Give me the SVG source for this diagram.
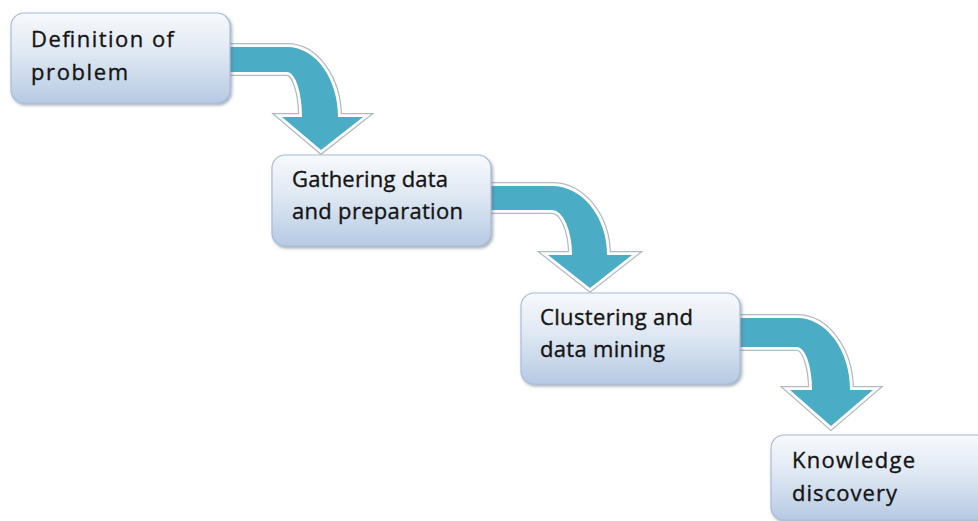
<svg xmlns="http://www.w3.org/2000/svg" xmlns:xlink="http://www.w3.org/1999/xlink" width="978" height="521" viewBox="0 0 978 521">
  <defs>
    <linearGradient id="boxFill" x1="0" y1="0" x2="0" y2="1">
      <stop offset="0" stop-color="#f7f9fc"/>
      <stop offset="0.45" stop-color="#dfe8f3"/>
      <stop offset="1" stop-color="#b6cae3"/>
    </linearGradient>
    <filter id="boxShadow" x="-10%" y="-10%" width="125%" height="130%">
      <feDropShadow dx="1.5" dy="2" stdDeviation="1.6" flood-color="#5d6f88" flood-opacity="0.55"/>
    </filter>
    <!-- bent arrow outlines -->
    <path id="arrow1" d="M225,47 H287 A51,70 0 0 1 338,117 H363 L321,150 L282,117 H302 A15,45 0 0 0 287,72 H225 Z"/>
    <path id="arrow2" d="M486,186 H552 A55,69 0 0 1 607,255 H632 L590,288 L548,255 H572 A20,45 0 0 0 552,210 H486 Z"/>
    <path id="arrow3" d="M735,318 H797 A53,72 0 0 1 850,390 H873 L831,426 L790,390 H812 A15,43 0 0 0 797,347 H735 Z"/>
  </defs>
  <style>
    .halo { fill: none; stroke: #b0bac5; stroke-width: 8; stroke-linejoin: miter; }
    .rim { fill: none; stroke: #ffffff; stroke-width: 5.5; stroke-linejoin: miter; }
    .shaft { fill: #4bacc6; }
    .box { fill: url(#boxFill); stroke: #a7bdd7; stroke-width: 1.2; filter: url(#boxShadow); }
    .label { font-family: "Open Sans", "Liberation Sans", sans-serif; font-size: 22px; fill: #141414; stroke: #141414; stroke-width: 0.35px; }
  </style>

  <g id="connectors">
    <use xlink:href="#arrow1" class="halo"/>
    <use xlink:href="#arrow1" class="rim"/>
    <use xlink:href="#arrow1" class="shaft"/>
    <use xlink:href="#arrow2" class="halo"/>
    <use xlink:href="#arrow2" class="rim"/>
    <use xlink:href="#arrow2" class="shaft"/>
    <use xlink:href="#arrow3" class="halo"/>
    <use xlink:href="#arrow3" class="rim"/>
    <use xlink:href="#arrow3" class="shaft"/>
  </g>

  <g id="definition">
    <rect class="box" x="11" y="13" width="219" height="90" rx="13"/>
    <text class="label" x="31" y="47" textLength="143" lengthAdjust="spacing">Definition of</text>
    <text class="label" x="31" y="80" textLength="97" lengthAdjust="spacing">problem</text>
  </g>

  <g id="gathering">
    <rect class="box" x="272" y="155" width="219" height="91" rx="13"/>
    <text class="label" x="292" y="187" textLength="156" lengthAdjust="spacing">Gathering data</text>
    <text class="label" x="292" y="219" textLength="171" lengthAdjust="spacing">and preparation</text>
  </g>

  <g id="clustering">
    <rect class="box" x="521" y="293" width="219" height="91" rx="13"/>
    <text class="label" x="540" y="325" textLength="153" lengthAdjust="spacing">Clustering and</text>
    <text class="label" x="540" y="357" textLength="125" lengthAdjust="spacing">data mining</text>
  </g>

  <g id="knowledge">
    <rect class="box" x="771" y="435" width="219" height="85" rx="13"/>
    <text class="label" x="792" y="468" textLength="123" lengthAdjust="spacing">Knowledge</text>
    <text class="label" x="792" y="501" textLength="105" lengthAdjust="spacing">discovery</text>
  </g>
</svg>
